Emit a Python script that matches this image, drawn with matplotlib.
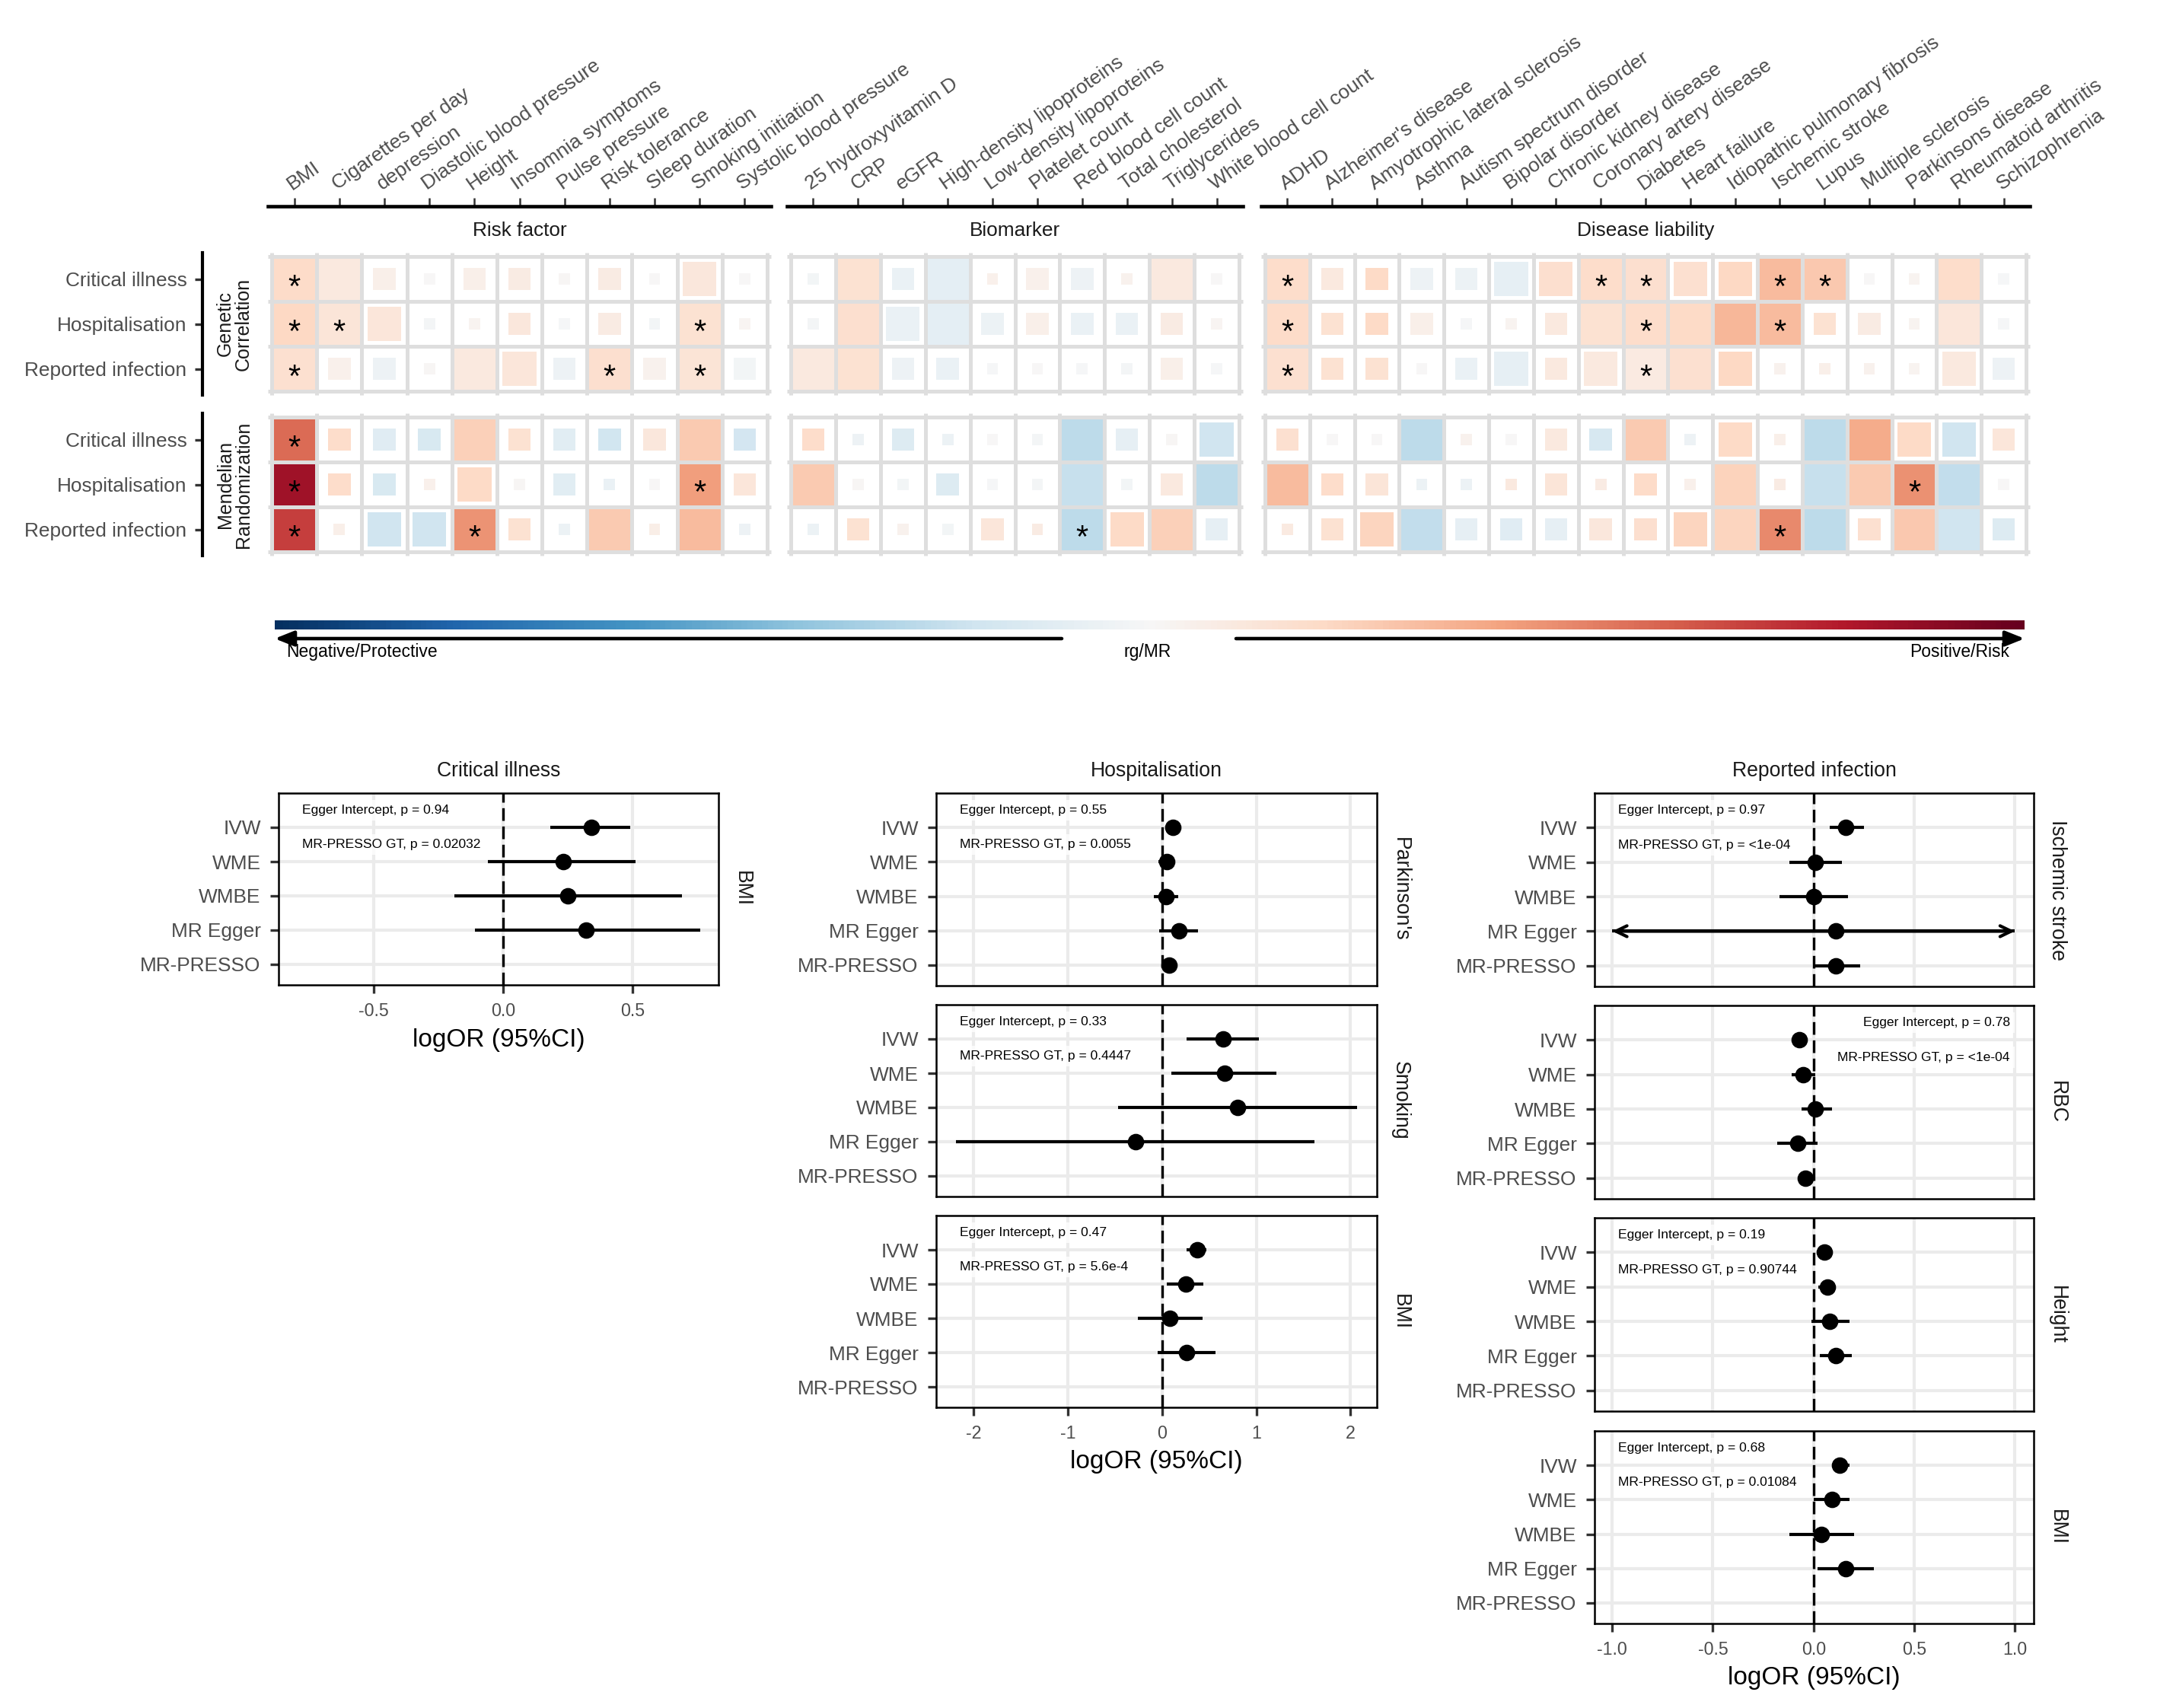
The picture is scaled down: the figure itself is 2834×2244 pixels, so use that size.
import numpy as np
import matplotlib
matplotlib.use("Agg")
import matplotlib.pyplot as plt
import matplotlib.transforms as mtransforms
from matplotlib.patches import Rectangle
from matplotlib.colors import Normalize

plt.rcParams['font.family'] = ['Liberation Sans', 'DejaVu Sans']

W, H, DPI = 2834, 2244, 300

# ---------------- heatmap data ----------------
outcomes = ["Critical illness", "Hospitalisation", "Reported infection"]
risk_factors = ["BMI", "Cigarettes per day", "depression", "Diastolic blood pressure",
                "Height", "Insomnia symptoms", "Pulse pressure", "Risk tolerance",
                "Sleep duration", "Smoking initiation", "Systolic blood pressure"]
biomarkers = ["25 hydroxyvitamin D", "CRP", "eGFR", "High-density lipoproteins",
              "Low-density lipoproteins", "Platelet count", "Red blood cell count",
              "Total cholesterol", "Triglycerides", "White blood cell count"]
diseases = ["ADHD", "Alzheimer's disease", "Amyotrophic lateral sclerosis", "Asthma",
            "Autism spectrum disorder", "Bipolar disorder", "Chronic kidney disease",
            "Coronary artery disease", "Diabetes", "Heart failure",
            "Idiopathic pulmonary fibrosis", "Ischemic stroke", "Lupus",
            "Multiple sclerosis", "Parkinsons disease", "Rheumatoid arthritis", "Schizophrenia"]

# rg / MR estimate, tile size level (1-4), significance
rf_gc = [[0.19, 0.10, 0.06, 0.00, 0.06, 0.08, 0.01, 0.08, 0.00, 0.11, 0.00],
         [0.21, 0.13, 0.12, -0.02, 0.03, 0.11, -0.01, 0.08, -0.03, 0.15, 0.02],
         [0.16, 0.05, -0.05, 0.01, 0.10, 0.12, -0.05, 0.17, 0.04, 0.14, -0.03]]
rf_gc_size = [[4, 4, 2, 1, 2, 2, 1, 2, 1, 3, 1],
              [4, 4, 3, 1, 1, 2, 1, 2, 1, 4, 1],
              [4, 2, 2, 1, 4, 3, 2, 4, 2, 4, 2]]
rf_gc_sig = [[1, 0, 0, 0, 0, 0, 0, 0, 0, 0, 0],
             [1, 1, 0, 0, 0, 0, 0, 0, 0, 1, 0],
             [1, 0, 0, 0, 0, 0, 0, 1, 0, 1, 0]]

rf_mr = [[0.57, 0.18, -0.12, -0.16, 0.24, 0.15, -0.11, -0.19, 0.11, 0.26, -0.18],
         [0.85, 0.18, -0.16, 0.05, 0.20, 0.01, -0.11, -0.07, 0.00, 0.42, 0.12],
         [0.69, 0.06, -0.20, -0.20, 0.45, 0.15, -0.06, 0.26, 0.07, 0.32, -0.05]]
rf_mr_size = [[4, 2, 2, 2, 4, 2, 2, 2, 2, 4, 2],
              [4, 2, 2, 1, 3, 1, 2, 1, 1, 4, 2],
              [4, 1, 3, 3, 4, 2, 1, 4, 1, 4, 1]]
rf_mr_sig = [[1, 0, 0, 0, 0, 0, 0, 0, 0, 0, 0],
             [1, 0, 0, 0, 0, 0, 0, 0, 0, 1, 0],
             [1, 0, 0, 0, 1, 0, 0, 0, 0, 0, 0]]

bm_gc = [[-0.03, 0.15, -0.07, -0.10, 0.05, 0.05, -0.05, 0.04, 0.10, 0.00],
         [-0.02, 0.17, -0.07, -0.10, -0.06, 0.06, -0.07, -0.07, 0.08, 0.02],
         [0.10, 0.15, -0.05, -0.07, -0.01, 0.00, -0.01, -0.02, 0.06, -0.01]]
bm_gc_size = [[1, 4, 2, 4, 1, 2, 2, 1, 4, 1],
              [1, 4, 3, 4, 2, 2, 2, 2, 2, 1],
              [4, 4, 2, 2, 1, 1, 1, 1, 2, 1]]
bm_gc_sig = [[0] * 10, [0] * 10, [0] * 10]

bm_mr = [[0.18, -0.05, -0.14, -0.06, 0.00, -0.02, -0.26, -0.09, 0.01, -0.20],
         [0.26, 0.01, -0.03, -0.14, -0.01, -0.02, -0.23, -0.03, 0.10, -0.26],
         [-0.06, 0.15, 0.04, -0.03, 0.12, 0.08, -0.26, 0.20, 0.24, -0.09]]
bm_mr_size = [[2, 1, 2, 1, 1, 1, 4, 2, 1, 3],
              [4, 1, 1, 2, 1, 1, 4, 1, 2, 4],
              [1, 2, 1, 1, 2, 1, 4, 3, 4, 2]]
bm_mr_sig = [[0, 0, 0, 0, 0, 0, 0, 0, 0, 0],
             [0, 0, 0, 0, 0, 0, 0, 0, 0, 0],
             [0, 0, 0, 0, 0, 0, 1, 0, 0, 0]]

dl_gc = [[0.18, 0.10, 0.20, -0.05, -0.06, -0.09, 0.17, 0.18, 0.17, 0.16, 0.21, 0.32, 0.27, 0.00, 0.03, 0.18, -0.01],
         [0.19, 0.15, 0.20, 0.06, -0.01, 0.03, 0.10, 0.15, 0.18, 0.20, 0.33, 0.32, 0.15, 0.08, 0.03, 0.12, -0.01],
         [0.16, 0.15, 0.15, 0.00, -0.07, -0.09, 0.10, 0.10, 0.09, 0.16, 0.21, 0.04, 0.06, 0.04, 0.03, 0.10, -0.05]]
dl_gc_size = [[4, 2, 2, 2, 2, 3, 3, 4, 4, 3, 3, 4, 4, 1, 1, 4, 1],
              [4, 2, 2, 2, 1, 1, 2, 4, 4, 4, 4, 4, 2, 2, 1, 4, 1],
              [4, 2, 2, 1, 2, 3, 2, 3, 4, 4, 3, 1, 1, 1, 1, 3, 2]]
dl_gc_sig = [[1, 0, 0, 0, 0, 0, 0, 1, 1, 0, 0, 1, 1, 0, 0, 0, 0],
             [1, 0, 0, 0, 0, 0, 0, 0, 1, 0, 0, 1, 0, 0, 0, 0, 0],
             [1, 0, 0, 0, 0, 0, 0, 0, 1, 0, 0, 0, 0, 0, 0, 0, 0]]

dl_mr = [[0.16, 0.00, 0.00, -0.26, 0.04, 0.00, 0.10, -0.17, 0.26, -0.05, 0.20, 0.06, -0.26, 0.37, 0.20, -0.20, 0.12],
         [0.32, 0.18, 0.13, -0.06, -0.06, 0.10, 0.13, 0.08, 0.19, 0.05, 0.23, 0.08, -0.23, 0.26, 0.46, -0.25, 0.00],
         [0.09, 0.15, 0.22, -0.25, -0.09, -0.12, -0.09, 0.11, 0.17, 0.22, 0.22, 0.48, -0.26, 0.16, 0.27, -0.20, -0.14]]
dl_mr_size = [[2, 1, 1, 4, 1, 1, 2, 2, 4, 1, 3, 1, 4, 4, 3, 3, 2],
              [4, 2, 2, 1, 1, 1, 2, 1, 2, 1, 4, 1, 4, 4, 4, 4, 1],
              [1, 2, 3, 4, 2, 2, 2, 2, 2, 3, 4, 4, 4, 2, 4, 4, 2]]
dl_mr_sig = [[0] * 17,
             [0, 0, 0, 0, 0, 0, 0, 0, 0, 0, 0, 0, 0, 0, 1, 0, 0],
             [0, 0, 0, 0, 0, 0, 0, 0, 0, 0, 0, 1, 0, 0, 0, 0, 0]]

# ---------------- forest data: (estimate, lower, upper) ----------------
methods = ["IVW", "WME", "WMBE", "MR Egger", "MR-PRESSO"]
nan = np.nan
ci_bmi = [(0.34, 0.18, 0.49), (0.23, -0.06, 0.51), (0.25, -0.19, 0.69), (0.32, -0.11, 0.76), (nan, nan, nan)]
hosp_pd = [(0.11, 0.08, 0.15), (0.05, -0.04, 0.13), (0.04, -0.09, 0.17), (0.18, -0.03, 0.38), (0.07, 0.04, 0.09)]
hosp_smoking = [(0.65, 0.26, 1.03), (0.66, 0.10, 1.21), (0.80, -0.47, 2.07), (-0.28, -2.19, 1.62), (nan, nan, nan)]
hosp_bmi = [(0.37, 0.26, 0.47), (0.25, 0.05, 0.44), (0.08, -0.26, 0.43), (0.26, -0.05, 0.57), (nan, nan, nan)]
ri_stroke = [(0.16, 0.08, 0.25), (0.01, -0.12, 0.14), (0.00, -0.17, 0.17), (0.11, -1.85, 2.05), (0.11, 0.00, 0.23)]
ri_rbc = [(-0.07, -0.09, -0.06), (-0.05, -0.11, 0.01), (0.01, -0.06, 0.09), (-0.08, -0.18, 0.02), (-0.04, -0.055, -0.03)]
ri_height = [(0.055, 0.04, 0.07), (0.07, 0.025, 0.11), (0.08, -0.01, 0.18), (0.11, 0.03, 0.19), (nan, nan, nan)]
ri_bmi = [(0.13, 0.09, 0.18), (0.09, 0.00, 0.18), (0.04, -0.12, 0.20), (0.16, 0.02, 0.30), (nan, nan, nan)]

fig = plt.figure(figsize=(W / DPI, H / DPI), dpi=DPI)
cmap = plt.get_cmap('RdBu_r')
norm = Normalize(-1, 1)
EXT = 0.08
GRID = '#DEDEDE'


def px_axes(x0, y0, x1, y1):
    return fig.add_axes([x0 / W, 1 - y1 / H, (x1 - x0) / W, (y1 - y0) / H])


def pt(px):
    return px * 72 / DPI


def heat_block(x0, x1, y0, y1, vals, sizes, sig, labels, top_axis, left_axis):
    n = len(labels)
    cw = (x1 - x0) / n
    ch = (y1 - y0) / 3
    ax = px_axes(x0 - EXT * cw, y0 - EXT * ch, x1 + EXT * cw, y1 + EXT * ch)
    ax.set_xlim(-EXT, n + EXT)
    ax.set_ylim(-EXT, 3 + EXT)
    ax.patch.set_alpha(0)
    star_tr = mtransforms.offset_copy(ax.transData, fig=fig, y=-5.6, units='points')
    for i in range(3):
        for j in range(n):
            s = sizes[i][j] / 4
            xc, yc = j + 0.5, 2.5 - i
            ax.add_patch(Rectangle((xc - s / 2, yc - s / 2), s, s, lw=0,
                                   facecolor=cmap(norm(vals[i][j])), zorder=1))
            if sig[i][j]:
                ax.text(xc, yc, '*', transform=star_tr, ha='center', va='baseline',
                        fontsize=10, color='black', zorder=4)
    ax.vlines(np.arange(n + 1), -EXT, 3 + EXT, color=GRID, lw=1.2, zorder=2, clip_on=False)
    ax.hlines(np.arange(4), -EXT, n + EXT, color=GRID, lw=1.2, zorder=2, clip_on=False)
    for sp in ax.spines.values():
        sp.set_visible(False)
    if top_axis:
        ax.spines['top'].set_visible(True)
        ax.spines['top'].set_position(('outward', pt(61)))
        ax.spines['top'].set_linewidth(1.1)
        ax.xaxis.set_ticks_position('top')
        ax.set_xticks(np.arange(n) + 0.5)
        ax.set_xticklabels(labels, rotation=35, ha='left', va='bottom', rotation_mode='anchor')
        ax.tick_params(axis='x', length=2.6, width=0.6, color='#333333', pad=1.5,
                       labelsize=6.3, labelcolor='#4D4D4D')
    else:
        ax.set_xticks([])
    if left_axis:
        ax.spines['left'].set_visible(True)
        ax.spines['left'].set_position(('outward', pt(86)))
        ax.spines['left'].set_linewidth(1.0)
        ax.set_yticks([2.5, 1.5, 0.5])
        ax.set_yticklabels(outcomes)
        ax.tick_params(axis='y', length=2.4, width=0.8, color='#333333', pad=2.6,
                       labelsize=6.3, labelcolor='#4D4D4D')
    else:
        ax.set_yticks([])
    return ax


groups = [("Risk factor", risk_factors, 357, 1008, (rf_gc, rf_gc_size, rf_gc_sig), (rf_mr, rf_mr_size, rf_mr_sig)),
          ("Biomarker", biomarkers, 1039, 1628, (bm_gc, bm_gc_size, bm_gc_sig), (bm_mr, bm_mr_size, bm_mr_sig)),
          ("Disease liability", diseases, 1662, 2662, (dl_gc, dl_gc_size, dl_gc_sig), (dl_mr, dl_mr_size, dl_mr_sig))]

GC_Y = (337, 514)
MR_Y = (548, 725)
for k, (name, labels, x0, x1, gc, mr) in enumerate(groups):
    heat_block(x0, x1, GC_Y[0], GC_Y[1], *gc, labels, top_axis=True, left_axis=(k == 0))
    heat_block(x0, x1, MR_Y[0], MR_Y[1], *mr, labels, top_axis=False, left_axis=(k == 0))
    fig.text((x0 + x1) / 2 / W, 1 - 303 / H, name, ha='center', va='center',
             fontsize=6.3, color='#1A1A1A')

fig.text(308 / W, 1 - sum(GC_Y) / 2 / H, "Genetic\nCorrelation", rotation=90,
         ha='center', va='center', fontsize=6.0, linespacing=1.0, color='#1A1A1A')
fig.text(308 / W, 1 - sum(MR_Y) / 2 / H, "Mendelian\nRandomization", rotation=90,
         ha='center', va='center', fontsize=6.0, linespacing=1.0, color='#1A1A1A')

# colour bar
ax_cb = px_axes(361, 815, 2660, 827)
ax_cb.imshow(np.linspace(-1, 1, 600)[None, :], cmap=cmap, norm=norm, aspect='auto')
ax_cb.axis('off')

ax_ov = fig.add_axes([0, 0, 1, 1], zorder=-1)
ax_ov.set_xlim(0, W)
ax_ov.set_ylim(H, 0)
ax_ov.axis('off')
arrow_kw = dict(arrowstyle='-|>,head_length=0.5,head_width=0.2', lw=1.1, color='black',
                shrinkA=0, shrinkB=0, mutation_scale=10)
ax_ov.annotate('', xy=(361, 839), xytext=(1395, 839), arrowprops=arrow_kw)
ax_ov.annotate('', xy=(2660, 839), xytext=(1624, 839), arrowprops=arrow_kw)
ax_ov.text(376, 856, "Negative/Protective", ha='left', va='center', fontsize=5.5)
ax_ov.text(1508, 856, "rg/MR", ha='center', va='center', fontsize=5.5)
ax_ov.text(2640, 856, "Positive/Risk", ha='right', va='center', fontsize=5.5)


# ---------------- forest plots ----------------
def forest(box, rows, xlim, xticks, xticklabels, egger, presso, facet,
           show_x=False, clip=None, note_right=False):
    x0, y0, x1, y1 = box
    ax = px_axes(x0, y0, x1, y1)
    ys = np.arange(len(methods), 0, -1)
    ax.set_xlim(xlim)
    ax.set_ylim(0.4, 6.0)
    ax.set_xticks(xticks)
    ax.set_xticklabels(xticklabels)
    ax.set_yticks(ys)
    ax.set_yticklabels(methods)
    ax.grid(True, color='#EBEBEB', lw=1.0)
    ax.set_axisbelow(True)
    ax.axvline(0, color='black', lw=0.8, ls=(0, (5, 2.2)), zorder=2)
    head = dict(arrowstyle='->,head_length=0.35,head_width=0.17', lw=1.0, color='black',
                shrinkA=0, shrinkB=0, mutation_scale=10)
    for y, (est, lo, hi) in zip(ys, rows):
        if np.isnan(est):
            continue
        a, b = lo, hi
        if clip is not None:
            a, b = max(lo, -clip), min(hi, clip)
        ax.hlines(y, a, b, color='black', lw=1.0, zorder=4)
        if clip is not None and lo < -clip:
            ax.annotate('', xy=(-clip, y), xytext=(est, y), arrowprops=head, zorder=4)
        if clip is not None and hi > clip:
            ax.annotate('', xy=(clip, y), xytext=(est, y), arrowprops=head, zorder=4)
        ax.plot(est, y, 'o', color='black', ms=4.2, mec='black', zorder=5)
    tr = mtransforms.blended_transform_factory(ax.transAxes, ax.transData)
    tx, ha = (0.946, 'right') if note_right else (0.054, 'left')
    for yy, s in ((5.5, egger), (4.5, presso)):
        ax.text(tx, yy, s, transform=tr, ha=ha, va='center', fontsize=4.2, zorder=3,
                bbox=dict(boxstyle='square,pad=0.35', fc='white', ec='none', alpha=0.8))
    for sp in ax.spines.values():
        sp.set_linewidth(0.6)
        sp.set_color('black')
    ax.tick_params(axis='both', length=2.6, width=0.8, color='#333333', pad=3,
                   labelcolor='#4D4D4D')
    ax.tick_params(axis='y', labelsize=6.3)
    ax.tick_params(axis='x', labelsize=5.6)
    if not show_x:
        ax.tick_params(axis='x', bottom=False, labelbottom=False)
    else:
        ax.text(0.5, -72 / (y1 - y0), "logOR (95%CI)", transform=ax.transAxes,
                ha='center', va='center', fontsize=8)
    ax.text(1 + 31 / (x1 - x0), 0.5, facet, transform=ax.transAxes, rotation=270,
            ha='center', va='center', fontsize=6.4, color='#1A1A1A')
    return ax


lim_l = (-0.868, 0.831)
tk_l = [-0.5, 0, 0.5]
tkl_l = ["-0.5", "0.0", "0.5"]
lim_m = (-2.4, 2.28)
tk_m = [-2, -1, 0, 1, 2]
tkl_m = ["-2", "-1", "0", "1", "2"]
lim_r = (-1.088, 1.094)
tk_r = [-1, -0.5, 0, 0.5, 1]
tkl_r = ["-1.0", "-0.5", "0.0", "0.5", "1.0"]

forest((366, 1042, 944, 1294), ci_bmi, lim_l, tk_l, tkl_l,
       "Egger Intercept, p = 0.94", "MR-PRESSO GT, p = 0.02032", "BMI", show_x=True)

XM = (1230, 1809)
forest((XM[0], 1042, XM[1], 1295), hosp_pd, lim_m, tk_m, tkl_m,
       "Egger Intercept, p = 0.55", "MR-PRESSO GT, p = 0.0055", "Parkinson's")
forest((XM[0], 1320, XM[1], 1572), hosp_smoking, lim_m, tk_m, tkl_m,
       "Egger Intercept, p = 0.33", "MR-PRESSO GT, p = 0.4447", "Smoking")
forest((XM[0], 1597, XM[1], 1849), hosp_bmi, lim_m, tk_m, tkl_m,
       "Egger Intercept, p = 0.47", "MR-PRESSO GT, p = 5.6e-4", "BMI", show_x=True)

XR = (2095, 2672)
forest((XR[0], 1042, XR[1], 1296), ri_stroke, lim_r, tk_r, tkl_r,
       "Egger Intercept, p = 0.97", "MR-PRESSO GT, p = <1e-04", "Ischemic stroke", clip=1.0)
forest((XR[0], 1321, XR[1], 1575), ri_rbc, lim_r, tk_r, tkl_r,
       "Egger Intercept, p = 0.78", "MR-PRESSO GT, p = <1e-04", "RBC", clip=1.0, note_right=True)
forest((XR[0], 1600, XR[1], 1854), ri_height, lim_r, tk_r, tkl_r,
       "Egger Intercept, p = 0.19", "MR-PRESSO GT, p = 0.90744", "Height", clip=1.0)
forest((XR[0], 1880, XR[1], 2133), ri_bmi, lim_r, tk_r, tkl_r,
       "Egger Intercept, p = 0.68", "MR-PRESSO GT, p = 0.01084", "BMI", clip=1.0, show_x=True)

for cx, title in ((655, "Critical illness"), (1519.5, "Hospitalisation"), (2383.5, "Reported infection")):
    fig.text(cx / W, 1 - 1013 / H, title, ha='center', va='center', fontsize=6.4, color='#1A1A1A')

fig.savefig("out.png", dpi=DPI)
